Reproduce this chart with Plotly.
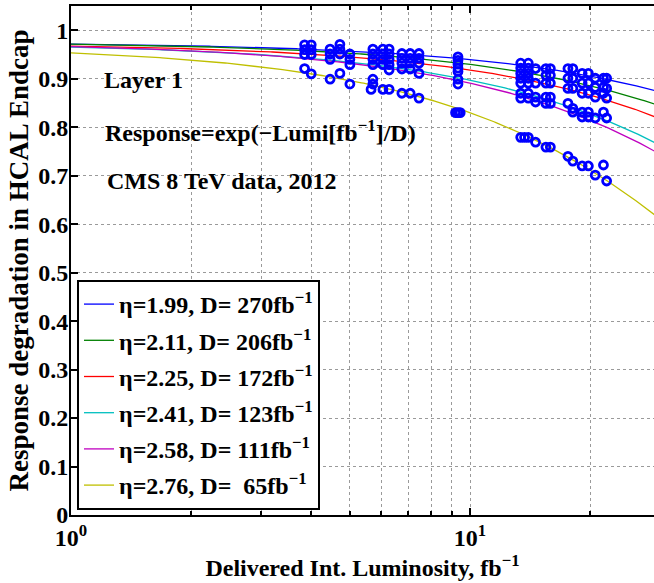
import numpy as np
import plotly.graph_objects as go

# Fit parameters per eta ring (D in fb^-1) and the response at zero luminosity
eta_labels = ["1.99", "2.11", "2.25", "2.41", "2.58", "2.76"]
d_values = [270, 206, 172, 123, 111, 65]
norm_values = [0.975, 0.976, 0.973, 0.973, 0.975, 0.968]
line_colors = ["#0000ff", "#008000", "#ff0000", "#00bfbf", "#bf00bf", "#bfbf00"]

# Measured response points (delivered luminosity in fb^-1, relative response)
meas_lumi = (
    [3.85] * 4 + [4.0] * 4 + [4.46] * 4 + [4.72] * 4 + [5.0] * 4
    + [5.71] * 6 + [5.65] + [6.05] * 5 + [6.27] * 6
    + [6.75] * 5 + [7.08] * 5 + [7.45] * 5
    + [9.33] * 8 + [9.2, 9.45]
    + [13.4] * 8 + [14.0] * 8 + [13.7]
    + [14.6] * 5 + [15.5] * 6 + [15.9] * 6
    + [17.6] * 5 + [18.1] * 6 + [19.1] * 6 + [19.8] * 6
    + [20.6] * 5 + [21.6] * 5 + [22.0] * 5
)
meas_resp = (
    [0.970, 0.960, 0.950, 0.921]
    + [0.970, 0.960, 0.950, 0.910]
    + [0.961, 0.951, 0.940, 0.899]
    + [0.971, 0.961, 0.951, 0.911]
    + [0.951, 0.940, 0.929, 0.889]
    + [0.961, 0.951, 0.940, 0.929, 0.899, 0.889]
    + [0.878]
    + [0.961, 0.951, 0.940, 0.929, 0.878]
    + [0.961, 0.951, 0.940, 0.929, 0.918, 0.878]
    + [0.952, 0.942, 0.932, 0.920, 0.870]
    + [0.952, 0.942, 0.932, 0.920, 0.870]
    + [0.952, 0.942, 0.932, 0.911, 0.860]
    + [0.945, 0.938, 0.930, 0.922, 0.915, 0.899, 0.889, 0.830]
    + [0.830, 0.830]
    + [0.932, 0.922, 0.911, 0.901, 0.891, 0.870, 0.860, 0.779]
    + [0.932, 0.922, 0.911, 0.901, 0.891, 0.870, 0.860, 0.779]
    + [0.779]
    + [0.921, 0.891, 0.862, 0.852, 0.769]
    + [0.921, 0.907, 0.891, 0.862, 0.849, 0.759]
    + [0.921, 0.907, 0.891, 0.862, 0.849, 0.759]
    + [0.921, 0.901, 0.880, 0.849, 0.740]
    + [0.921, 0.901, 0.880, 0.839, 0.831, 0.730]
    + [0.911, 0.891, 0.870, 0.831, 0.821, 0.720]
    + [0.911, 0.891, 0.870, 0.831, 0.821, 0.720]
    + [0.901, 0.882, 0.862, 0.819, 0.701]
    + [0.901, 0.882, 0.870, 0.831, 0.722]
    + [0.901, 0.880, 0.860, 0.819, 0.689]
)

y_ticks = [0, 0.1, 0.2, 0.3, 0.4, 0.5, 0.6, 0.7, 0.8, 0.9, 1.0]
y_ticktext = ["0", "0.1", "0.2", "0.3", "0.4", "0.5", "0.6", "0.7", "0.8", "0.9", "1"]
x_ticks = [1, 10]
x_ticktext = ["10<sup>0</sup>", "10<sup>1</sup>"]
x_minor = [2, 3, 4, 5, 6, 7, 8, 9, 20]

FONT = "Liberation Serif"
W, H = 654, 583
LEFT, TOP, BOTTOM = 71, 6, 68
plot_w = W - LEFT
x_hi = plot_w / 399.0  # one decade spans 399 px

fig = go.Figure()

lumi_grid = np.logspace(0, x_hi + 0.02, 300)
for eta, d, a, col in zip(eta_labels, d_values, norm_values, line_colors):
    pad = "\u00a0" * 2 if d < 100 else " "
    fig.add_trace(go.Scatter(
        x=lumi_grid, y=a * np.exp(-lumi_grid / d), mode="lines",
        line=dict(color=col, width=1.3),
        name=f"\u03b7={eta}, D={pad}{d}fb<sup>\u22121</sup>",
        legendgroup=eta,
    ))

fig.add_trace(go.Scatter(
    x=meas_lumi, y=meas_resp, mode="markers", showlegend=False,
    marker=dict(symbol="circle-open", size=8, color="#0000ff",
                line=dict(width=2.8, color="#0000ff")),
))

grid = dict(showgrid=True, gridcolor="#9a9a9a", griddash="dot", gridwidth=1)
tick_font = dict(family=FONT, size=24, color="black", weight="bold")

fig.update_xaxes(
    type="log", range=[0, x_hi],
    tickvals=x_ticks, ticktext=x_ticktext,
    ticks="inside", ticklen=7, tickwidth=1.5, tickcolor="black",
    showline=True, linecolor="black", linewidth=2, mirror="ticks",
    tickfont=tick_font,
    minor=dict(tickvals=x_minor, ticks="inside", ticklen=4, tickcolor="black",
               showgrid=True, gridcolor="#9a9a9a", griddash="dot", gridwidth=1),
    title=dict(text="Delivered Int. Luminosity, fb<sup>\u22121</sup>",
               font=dict(family=FONT, size=24, color="black", weight="bold"),
               standoff=2),
    zeroline=False, **grid,
)
fig.update_yaxes(
    range=[0, 1.05], tickvals=y_ticks, ticktext=y_ticktext,
    ticks="inside", ticklen=7, tickwidth=1.5, tickcolor="black",
    showline=True, linecolor="black", linewidth=2, mirror=False,
    tickfont=tick_font, ticklabelstandoff=-4,
    title=dict(text="Response degradation in HCAL Endcap",
               font=dict(family=FONT, size=27, color="black", weight="bold"),
               standoff=2),
    zeroline=False, **grid,
)

def px_x(px):
    return (px - LEFT) / plot_w

def px_y(py):
    return (H - BOTTOM - py) / (H - BOTTOM - TOP)

note_font = dict(family=FONT, size=24, color="black", weight="bold")
for text, px, py in [
    ("Layer 1", 102, 80),
    ("Response=exp(\u2212Lumi[fb<sup>\u22121</sup>]/D)", 103, 131),
    ("CMS 8 TeV data, 2012", 105, 181),
]:
    fig.add_annotation(text=text, x=px_x(px), y=px_y(py), xref="paper", yref="paper",
                       xanchor="left", yanchor="middle", showarrow=False, font=note_font)

fig.update_layout(
    width=W, height=H,
    margin=dict(l=LEFT, r=0, t=TOP, b=BOTTOM),
    paper_bgcolor="white", plot_bgcolor="white",
    font=dict(family=FONT, color="black", weight="bold"),
    legend=dict(
        x=px_x(77), y=px_y(510), xanchor="left", yanchor="bottom",
        bgcolor="white", bordercolor="black", borderwidth=2,
        font=dict(family=FONT, size=24, color="black", weight="bold"),
        itemwidth=30, tracegroupgap=2,
    ),
)

fig.write_html("out.html")
